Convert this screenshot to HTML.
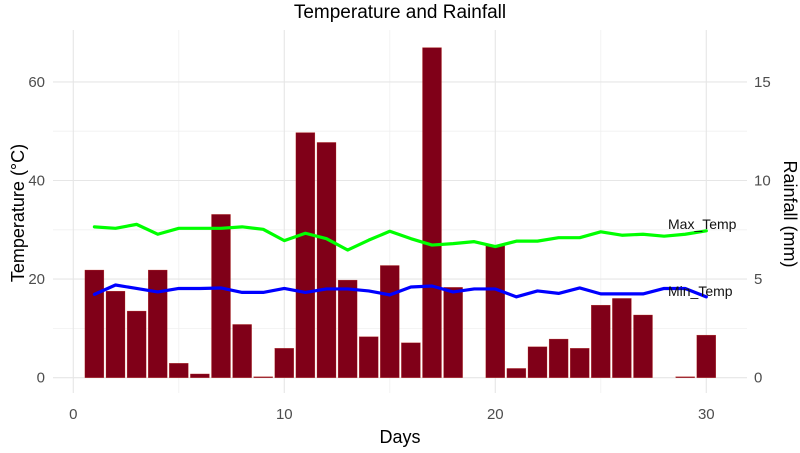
<!DOCTYPE html>
<html><head><meta charset="utf-8"><style>
body{margin:0;background:#fff;font-family:"Liberation Sans",sans-serif}
svg text{font-family:"Liberation Sans",sans-serif}
</style></head><body>
<svg width="800" height="448" viewBox="0 0 800 448">
<g id="grid"></g>
<g id="bars"></g>
<g id="lines"></g>
<g id="axes"></g>
<text x="400" y="18" text-anchor="middle" font-size="19" fill="#000">Temperature and Rainfall</text>
<text x="400" y="443" text-anchor="middle" font-size="18" fill="#000">Days</text>
<text transform="translate(24,213) rotate(-90)" text-anchor="middle" font-size="18" fill="#000">Temperature (°C)</text>
<text transform="translate(784,214) rotate(90)" text-anchor="middle" font-size="18" fill="#000">Rainfall (mm)</text>
</svg>
<script>
const days = [1,2,3,4,5,6,7,8,9,10,11,12,13,14,15,16,17,18,19,20,21,22,23,24,25,26,27,28,29,30];
const rainfall = [5.46,4.39,3.38,5.46,0.73,0.19,8.28,2.70,0.05,1.49,12.43,11.93,4.95,2.08,5.69,1.77,16.74,4.58,0,6.72,0.47,1.57,1.96,1.49,3.68,4.02,3.18,0,0.05,2.16];
const maxTemp = [30.6,30.3,31.1,29.1,30.3,30.3,30.3,30.6,30.1,27.8,29.3,28.2,25.9,27.9,29.7,28.2,26.9,27.2,27.6,26.6,27.7,27.7,28.4,28.4,29.6,28.9,29.1,28.7,29.1,29.8];
const minTemp = [16.9,18.8,18.1,17.4,18.1,18.1,18.2,17.3,17.3,18.1,17.3,18.0,18.0,17.6,16.8,18.4,18.6,17.4,18.0,18.0,16.4,17.6,17.1,18.2,17.0,17.0,17.0,18.1,18.1,16.4];
const xTicks = [0,10,20,30];
const tempTicks = [0,20,40,60];
const rainTicks = [0,5,10,15];
const NS='http://www.w3.org/2000/svg';
const X0=53,X1=747,Y0=30,Y1=393;
const x=d=>73.3+d*21.1;
const yT=t=>377.7-t*4.93;
const yR=r=>377.7-r*19.72;
function mk(tag,attrs,parent){const e=document.createElementNS(NS,tag);for(const k in attrs)e.setAttribute(k,attrs[k]);parent.appendChild(e);return e;}
const grid=document.getElementById('grid');
[5,15,25].forEach(d=>{const l=mk('line',{x1:x(d),x2:x(d),y1:Y0,y2:Y1,stroke:'#f0f0f0','stroke-width':0.8},grid);

});
[10,30,50].forEach(t=>{const l=mk('line',{x1:X0,x2:X1,y1:yT(t),y2:yT(t),stroke:'#f0f0f0','stroke-width':0.8},grid);

});
xTicks.forEach(d=>{const l=mk('line',{x1:x(d),x2:x(d),y1:Y0,y2:Y1,stroke:'#e6e6e6','stroke-width':1.1},grid);

});
tempTicks.forEach(t=>{const l=mk('line',{x1:X0,x2:X1,y1:yT(t),y2:yT(t),stroke:'#e6e6e6','stroke-width':1.1},grid);

});
const bars=document.getElementById('bars');
days.forEach((d,i)=>{const v=rainfall[i];if(v<=0)return;const top=yR(v);
const r=mk('rect',{x:x(d)-9.5,y:top,width:19,height:yR(0)-top,fill:'#800018',stroke:'#c0392b','stroke-width':0.3},bars);

});
const lines=document.getElementById('lines');
function line(arr,color,name){const p=mk('polyline',{points:days.map((d,i)=>x(d)+','+yT(arr[i])).join(' '),fill:'none',stroke:color,'stroke-width':3.2,'stroke-linejoin':'round','stroke-linecap':'round'},lines);

}
line(maxTemp,'#00ff00','max-temp-line');
line(minTemp,'#0000ff','min-temp-line');
const ml=mk('text',{x:668,y:yT(maxTemp[29])-2,'font-size':14,fill:'#111'},lines);ml.textContent='Max_Temp';


const nl=mk('text',{x:668,y:yT(minTemp[29])-1,'font-size':14,fill:'#111'},lines);nl.textContent='Min_Temp';


const axes=document.getElementById('axes');
xTicks.forEach(d=>{const t=mk('text',{x:x(d),y:419,'text-anchor':'middle','font-size':15,fill:'#4d4d4d'},axes);t.textContent=d;

});
tempTicks.forEach(v=>{const t=mk('text',{x:45,y:yT(v)+5,'text-anchor':'end','font-size':15,fill:'#4d4d4d'},axes);t.textContent=v;

});
rainTicks.forEach(v=>{const t=mk('text',{x:754,y:yR(v)+5,'text-anchor':'start','font-size':15,fill:'#4d4d4d'},axes);t.textContent=v;

});
</script>
</body></html>
